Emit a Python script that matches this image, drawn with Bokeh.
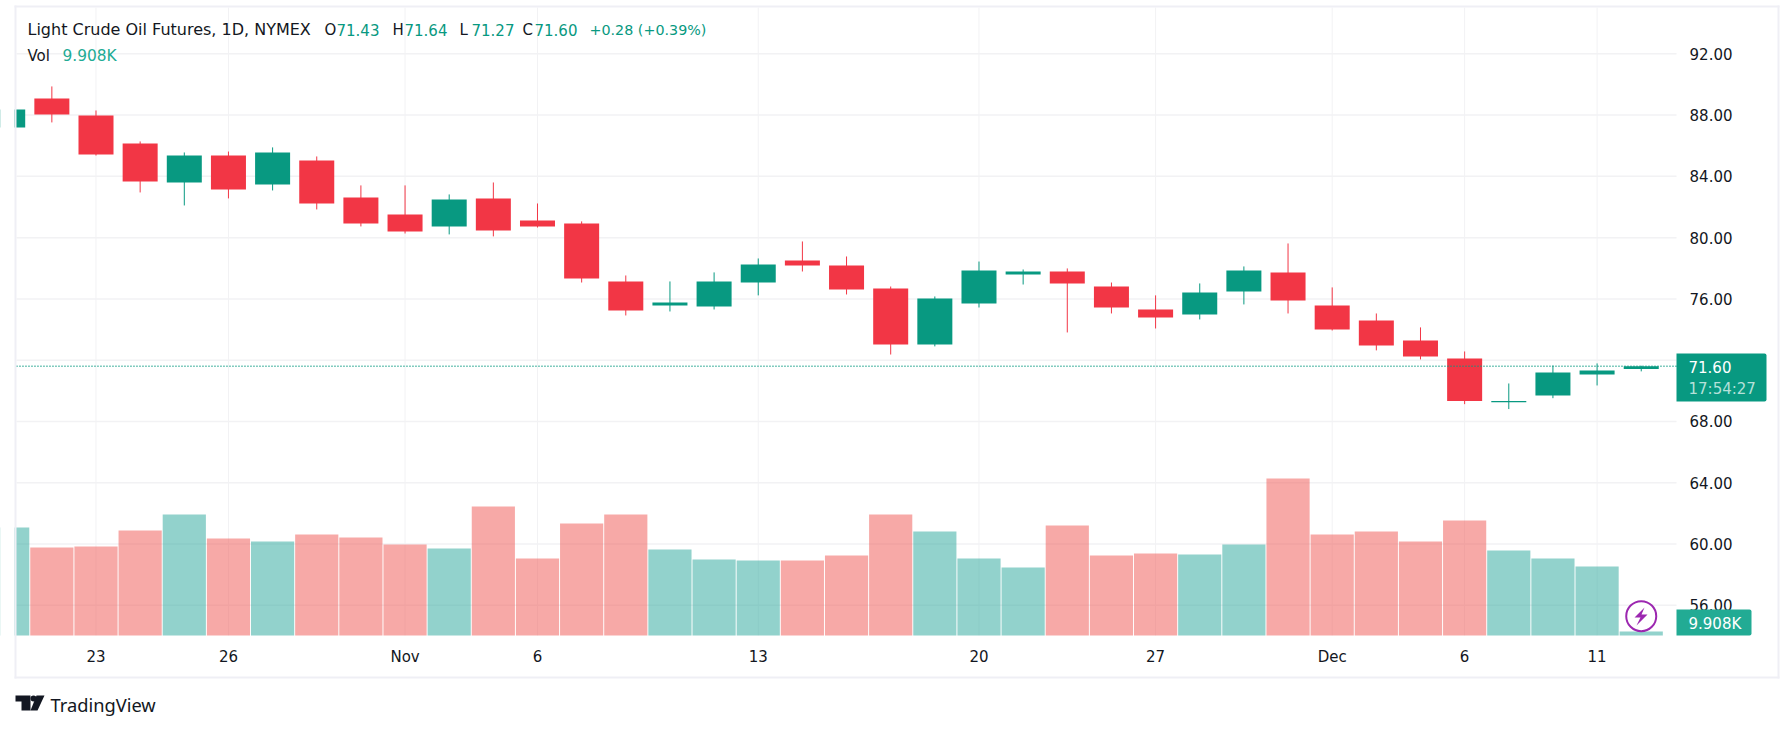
from bokeh.plotting import figure
from bokeh.embed import file_html
from bokeh.resources import INLINE
from bokeh.models import Range1d, FixedTicker, BoxAnnotation, Label, PolyAnnotation

opens  = [87.19,89.08,87.97,86.15,83.60,85.36,83.47,85.04,82.62,81.51,80.73,82.56,81.12,80.93,77.14,75.57,75.51,77.07,78.51,78.18,76.68,73.03,75.70,77.60,77.79,76.81,75.31,74.99,76.49,77.73,75.57,74.59,73.29,72.11,69.26,69.70,71.07,71.43]
highs  = [88.37,89.87,88.30,86.28,85.56,85.62,85.89,85.30,83.41,83.41,82.82,83.60,82.23,81.06,77.53,77.14,77.73,78.64,79.75,78.77,76.81,76.16,78.44,77.92,77.99,77.07,76.23,77.01,78.12,79.62,76.75,75.05,74.14,72.57,70.48,71.65,71.79,71.64]
lows   = [87.19,87.52,85.36,82.95,82.10,82.56,83.08,81.84,80.73,80.27,80.21,80.08,80.66,77.07,74.92,75.18,75.31,76.23,77.79,76.29,72.37,72.90,75.44,76.94,73.81,75.05,74.07,74.66,75.64,75.05,73.94,72.64,72.05,69.13,68.81,69.52,70.35,71.27]
closes = [88.37,88.04,85.43,83.67,85.36,83.14,85.56,82.23,80.93,80.40,82.49,80.47,80.73,77.34,75.25,75.77,77.14,78.25,78.18,76.62,73.03,76.03,77.86,77.79,77.01,75.44,74.79,76.42,77.86,75.90,74.01,72.96,72.24,69.33,69.33,71.20,71.33,71.60]
volumes = [267.5,218.0,220.5,260.1,299.7,240.3,232.8,250.2,242.8,225.4,215.5,319.5,190.7,277.4,299.7,213.0,188.3,185.8,185.8,198.2,299.7,257.6,190.7,168.4,272.5,198.2,203.1,200.6,225.4,388.9,250.2,257.6,232.8,284.9,210.6,190.7,170.9,9.908]
price_ticks = [56,60,64,68,72,76,80,84,88,92]
date_ticks = [2,5,9,12,17,22,26,30,33,36]
date_labels = ["23","26","Nov","6","13","20","27","Dec","6","11"]
last_price = 71.60

GREEN, RED = "#089981", "#F23645"
VGREEN, VRED = "#26A69A", "#EF5350"
GRID = "#F2F2F4"
FRAME = "#EFEFF5"
INK = "#131722"
FONT = "DejaVu Sans"
PANE_LEFT, PANE_RIGHT = 0.199, 37.80
PANE_BOTTOM, PANE_TOP = 54.03, 95.02
x = list(range(len(closes)))
body_col = [GREEN if c >= o else RED for o, c in zip(opens, closes)]
vol_col = [VGREEN if c >= o else VRED for o, c in zip(opens, closes)]

p = figure(width=1784, height=722, output_backend="svg", toolbar_location=None,
           x_range=Range1d(-0.1631, 40.245), y_range=Range1d(48.35, 95.479),
           y_axis_location="right", min_border_left=0, min_border_right=0,
           min_border_top=0, min_border_bottom=0, outline_line_color=None,
           background_fill_color="white", border_fill_color="white")
p.extra_y_ranges = {"vol": Range1d(-215.5, 1572.9)}

for ax in (p.xaxis[0], p.yaxis[0]):
    ax.axis_line_color = None
    ax.major_tick_line_color = None
    ax.minor_tick_line_color = None
    ax.major_tick_out = 0
    ax.major_tick_in = 0
    ax.major_label_text_font = FONT
    ax.major_label_text_font_size = "15px"
    ax.major_label_text_color = INK
p.yaxis[0].fixed_location = PANE_RIGHT
p.xaxis[0].fixed_location = PANE_BOTTOM
p.yaxis[0].ticker = FixedTicker(ticks=price_ticks)
p.yaxis[0].major_label_overrides = {t: f"{t:.2f}" for t in price_ticks}
p.yaxis[0].major_label_standoff = 13
p.xaxis[0].ticker = FixedTicker(ticks=date_ticks)
p.xaxis[0].major_label_overrides = dict(zip(date_ticks, date_labels))
p.xaxis[0].major_label_standoff = 13
p.xgrid[0].grid_line_color = None
p.ygrid[0].grid_line_color = None

p.segment(x0=date_ticks, x1=date_ticks, y0=PANE_BOTTOM, y1=PANE_TOP, color=GRID, line_width=1)
p.segment(x0=PANE_LEFT, x1=PANE_RIGHT, y0=price_ticks, y1=price_ticks, color=GRID, line_width=1.5)
p.vbar(x=x, bottom=0, top=volumes, width=0.978, color=vol_col, alpha=0.5, line_color=None, y_range_name="vol")
p.segment(x0=x, x1=x, y0=lows, y1=highs, color=body_col, line_width=1)
p.vbar(x=x, bottom=[min(a, b) for a, b in zip(opens, closes)], top=[max(a, b) for a, b in zip(opens, closes)],
       width=0.793, color=body_col, line_color=None)
p.line(x=[PANE_LEFT, PANE_RIGHT], y=[last_price, last_price], line_color=GREEN, line_width=1.4, line_dash="1 2")
p.scatter(x=[37], y=[55.29], size=30, fill_color="white", line_color="#9C27B0", line_width=2)


def box(l, t, r, b, **kw):
    p.add_layout(BoxAnnotation(left=l, right=r, top=t, bottom=b, left_units="canvas", right_units="canvas",
                               top_units="canvas", bottom_units="canvas", line_color=None, fill_alpha=1, **kw))


def txt(sx, sy, s, color=INK, size="15px", font=FONT):
    p.add_layout(Label(x=sx, y=sy, x_units="canvas", y_units="canvas", text=s, text_color=color, text_font=font,
                       text_font_size=size, text_baseline="middle", text_align="left"))


def poly(xs, ys, color):
    p.add_layout(PolyAnnotation(xs=xs, ys=ys, xs_units="canvas", ys_units="canvas", fill_color=color, fill_alpha=1,
                                line_color=None))


box(0, 0, 14, 722, fill_color="white")
for b in ((14, 5, 1779, 7), (14, 676, 1779, 678), (14, 5, 16, 678), (1777, 5, 1779, 678)):
    box(*b, fill_color=FRAME)

box(1676, 353, 1766, 401, fill_color=GREEN, border_radius=(0, 2, 2, 0))
box(1676, 609, 1751, 635, fill_color="#22AB94", border_radius=(0, 2, 2, 0))
txt(1688, 366, "71.60", "white")
txt(1688, 388, "17:54:27", "#B5E0D9")
txt(1688, 623, "9.908K", "white")

txt(27, 29, "Light Crude Oil Futures, 1D, NYMEX", size="16px")
for sx, s, v in ((324, "O", "71.43"), (392, "H", "71.64"), (459, "L", "71.27"), (522, "C", "71.60")):
    txt(sx, 29, s)
    txt(sx + 12, 29, v, GREEN)
txt(589, 29, "+0.28 (+0.39%)", GREEN, "14.3px")
txt(27, 55, "Vol")
txt(62, 55, "9.908K", "#22AB94", "15.4px")

poly([1644, 1634, 1640, 1636, 1647, 1641], [607, 617, 617, 625, 614, 614], "#9C27B0")

poly([15, 30, 30, 21, 21, 15], [695, 695, 710, 710, 701, 701], INK)
poly([36, 44, 37, 30], [695, 695, 710, 710], INK)
box(30, 695, 36, 701, fill_color=INK, border_radius=3)
txt(50, 704, "TradingView", INK, "18.3px", "Noto Sans")

open("out.html", "w").write(file_html(p, INLINE))
